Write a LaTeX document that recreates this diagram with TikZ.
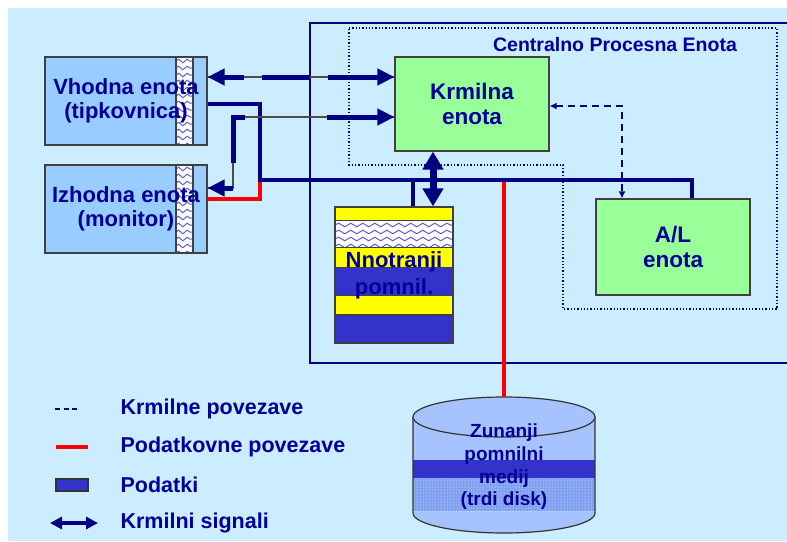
\documentclass[tikz,border=0pt]{standalone}
\usepackage{fontspec}
\setsansfont{Liberation Sans}
\usetikzlibrary{arrows.meta, positioning, calc, patterns, decorations.pathmorphing}
\definecolor{cnavy}{HTML}{000099}
\definecolor{cline}{HTML}{000080}
\definecolor{cbg}{HTML}{CCECFF}
\definecolor{cgreen}{HTML}{99FF99}
\definecolor{cblue}{HTML}{99CCFF}
\definecolor{cmem}{HTML}{3333CC}
\definecolor{cyellow}{HTML}{FFFF00}
\definecolor{cred}{HTML}{FF0000}
\definecolor{cdisk}{HTML}{A6C3FF}
\definecolor{cdiskdark}{HTML}{7F9FF0}
\tikzset{
  every picture/.style={font=\sffamily\bfseries, line width=1.2pt},
  unit/.style={draw=black!75, fill=#1, text=cnavy, align=center, inner sep=0pt, font=\sffamily\bfseries\fontsize{22}{24}\selectfont},
  bus/.style={draw=cline, line width=4.5pt},
  data/.style={draw=cred, line width=4.5pt},
  ctrl/.style={draw=cline, line width=1.6pt, dash pattern=on 7pt off 5pt},
  signal/.style={draw=cline, line width=5pt, {Triangle[width=16pt,length=17pt]}-{Triangle[width=16pt,length=17pt]}},
  thinwire/.style={draw=black!70, line width=1.2pt},
  wave/.style={draw=cmem!80, line width=1pt, decorate, decoration={snake, segment length=#1, amplitude=1.8pt}},
  legend/.style={anchor=west, inner sep=0pt, text=cnavy, font=\sffamily\bfseries\fontsize{21.5}{24}\selectfont},
}
\newcommand\wavestrip{%
  \fill[white] ([xshift=-31pt]path picture bounding box.north east) rectangle ([xshift=-14pt]path picture bounding box.south east);
  \foreach \k in {0,...,12}
    \draw[wave=8.5pt] ([xshift=-31pt, yshift=-4pt-7pt*\k]path picture bounding box.north east) -- ++(17pt,0pt);
  \draw[black!75] ([xshift=-31pt]path picture bounding box.north east) -- ([xshift=-31pt]path picture bounding box.south east)
    ([xshift=-14pt]path picture bounding box.north east) -- ([xshift=-14pt]path picture bounding box.south east);}
\newcommand\memband[3]{%
  \fill[#1] ([yshift=-#2pt]path picture bounding box.north west) rectangle ([yshift=-#3pt]path picture bounding box.north east);
  \draw[black!75] ([yshift=-#3pt]path picture bounding box.north west) -- ([yshift=-#3pt]path picture bounding box.north east);}
\newcommand\memlayers{%
  \memband{cyellow}{0}{14}
  \memband{white}{14}{41}
  \foreach \k in {0,...,3}
    \draw[wave=12pt] ([yshift=-18pt-7pt*\k]path picture bounding box.north west) -- ++(118pt,0pt);
  \draw[black!75] ([yshift=-41pt]path picture bounding box.north west) -- ([yshift=-41pt]path picture bounding box.north east);
  \memband{cyellow}{41}{61}
  \memband{cmem}{61}{89}
  \memband{cyellow}{89}{108}}

\begin{document}
\begin{tikzpicture}[x=1pt, y=-1pt]
  \useasboundingbox (0,0) rectangle (787,541);
  \fill[cbg] (8,8) rectangle (787,541);
  \draw[cline, line width=1.3pt] (310,23) rectangle (792,363);
  \draw[cline, dotted, line width=1.3pt] (349,28) -- (777,28) -- (777,309) -- (563,309) -- (563,165) -- (349,165) -- cycle;
  \node[text=cnavy, font=\sffamily\bfseries\fontsize{19.5}{22}\selectfont] (cpu) at (615,45) {Centralno Procesna Enota};

  \node[unit=cblue, minimum width=162pt, minimum height=88pt, path picture={\wavestrip}] (vhodna) at (126,101) {Vhodna enota\\(tipkovnica)};
  \node[unit=cblue, minimum width=162pt, minimum height=88pt, path picture={\wavestrip}] (izhodna) at (126,209) {Izhodna enota\\(monitor)};
  \node[unit=cgreen, minimum width=154pt, minimum height=94pt, font=\sffamily\bfseries\fontsize{22.5}{25}\selectfont] (krmilna) at (472,104) {Krmilna\\enota};
  \node[unit=cgreen, minimum width=154pt, minimum height=96pt, font=\sffamily\bfseries\fontsize{22.5}{25}\selectfont] (alu) at (673,247) {A/L\\enota};
  \node[unit=cmem, minimum width=118pt, minimum height=136pt, path picture={\memlayers}, font=\sffamily\bfseries\fontsize{22}{27}\selectfont] (mem) at (394,275) {Nnotranji\\pomnil.};

  \coordinate (disktop) at (504,397);
  \fill[cdisk] (413,417) rectangle (595,513);
  \fill[cdisk] (504,513) ellipse [x radius=91pt, y radius=20pt];
  \fill[cdiskdark] (413,478) rectangle (595,511);
  \fill[pattern=dots, pattern color=white] (413,478) rectangle (595,511);
  \fill[cmem] (413,460) rectangle (595,478);
  \draw[black!80] (413,417) -- (413,513) arc[start angle=180, end angle=360, x radius=91pt, y radius=20pt] -- (595,417);
  \filldraw[draw=black!80, fill=cdisk] (504,417) ellipse [x radius=91pt, y radius=20pt];
  \node[text=cnavy, align=center, inner sep=0pt, font=\sffamily\bfseries\fontsize{19}{22.7}\selectfont] (disk) at (504,467) {Zunanji\\pomnilni\\medij\\(trdi disk)};

  \coordinate (b1) at (260,104);
  \coordinate (b2) at (260,180);
  \coordinate (b3) at (692,180);
  \coordinate (r1) at (260,199);
  \coordinate (s1) at (300,77);
  \coordinate (s2) at (233,117);
  \coordinate (s3) at (233,188);
  \coordinate (c1) at (622,106);

  \draw[data] (izhodna.east |- r1) -- (r1) -- (b2);
  \draw[data] ([yshift=-2pt]b2 -| disktop) -- (disktop);
  \draw[bus] (vhodna.east |- b1) -- (b1) -- (b2) -- (b3) -- (b3 |- alu.north);
  \draw[bus] ([xshift=19pt]mem.north) -- ([xshift=19pt]mem.north |- b2);
  \draw[draw=cline, line width=7pt, {Triangle[width=20pt,length=18pt]}-{Triangle[width=20pt,length=18pt]}] ([xshift=39pt]mem.north) -- ([xshift=-39pt]krmilna.south);

  \draw[thinwire] (vhodna.east |- s1) -- (krmilna.west |- s1);
  \draw[signal, dash pattern=on 20pt off 18pt on 48pt off 18pt on 300pt] (vhodna.east |- s1) -- (krmilna.west |- s1);
  \draw[thinwire] (izhodna.east |- s3) -- (s3) -- (s2) -- (krmilna.west |- s2);
  \draw[signal, dash pattern=on 9pt off 25pt on 58pt off 82pt on 300pt] (izhodna.east |- s3) -- (s3) -- (s2) -- (krmilna.west |- s2);
  \draw[ctrl, {Latex[length=7pt,width=7pt]}-{Latex[length=7pt,width=7pt]}] (krmilna.east |- c1) -- (c1) -- (c1 |- alu.north);

  \node[legend] (lg1) at (120,409) {Krmilne povezave};
  \node[legend] (lg2) at (120,447) {Podatkovne povezave};
  \node[legend] (lg3) at (120,485) {Podatki};
  \node[legend] (lg4) at (120,523) {Krmilni signali};
  \draw[draw=cline, line width=1.5pt, dash pattern=on 5pt off 3.5pt] ([xshift=-65pt]lg1.west) -- ([xshift=-42pt]lg1.west);
  \draw[data] ([xshift=-64pt]lg2.west) -- ([xshift=-32pt]lg2.west);
  \draw[draw=black!80, fill=cmem] ([xshift=-64pt, yshift=6pt]lg3.west) rectangle ([xshift=-32pt, yshift=-6pt]lg3.west);
  \draw[draw=cline, line width=4pt, {Triangle[width=12pt,length=12pt]}-{Triangle[width=12pt,length=12pt]}] ([xshift=-70pt]lg4.west) -- ([xshift=-22pt]lg4.west);
\end{tikzpicture}
\end{document}
